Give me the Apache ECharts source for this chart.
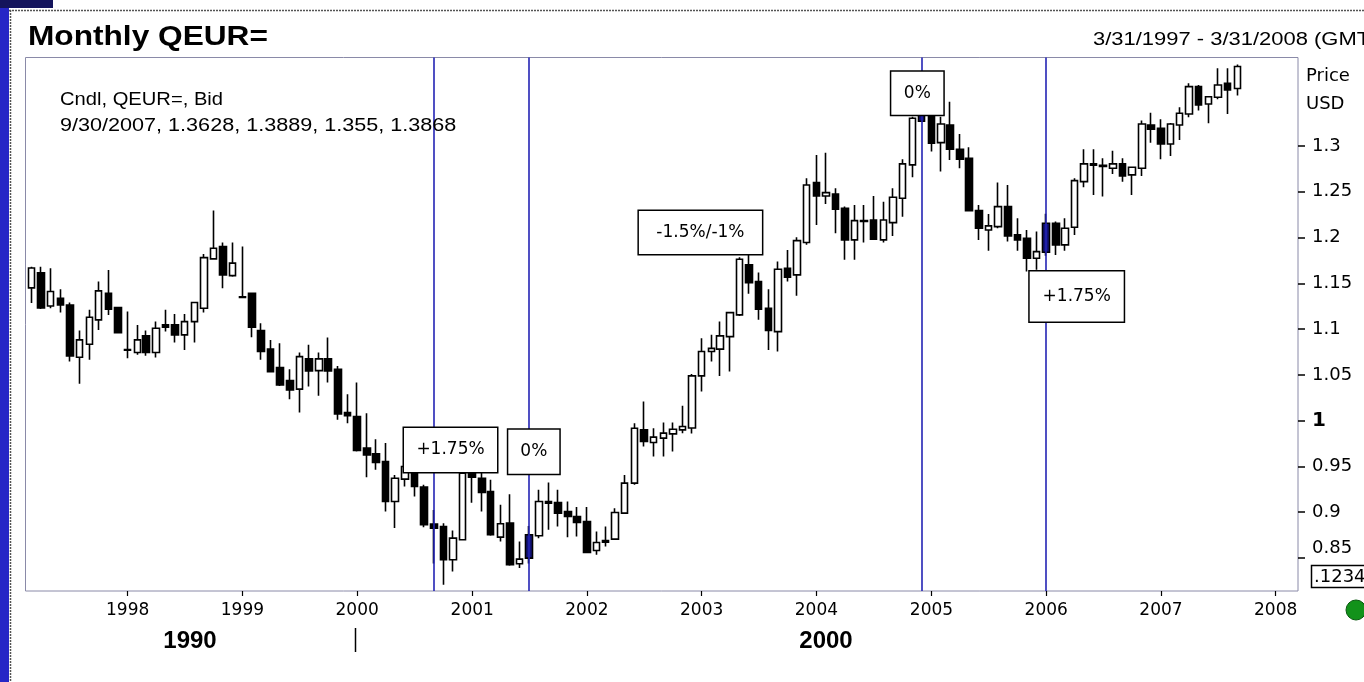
<!DOCTYPE html>
<html><head><meta charset="utf-8">
<script src="https://cdn.jsdelivr.net/npm/echarts@6/dist/echarts.min.js"></script>
<style>html,body{margin:0;padding:0;background:#fff;}#c{width:1364px;height:682px;}</style>
</head><body><div id="c"></div>
<script>
// ---- data (monthly candles, Mar 1997 .. Sep 2007) ----
const firstYear = 1997, firstMonth = 3;
const open = [1.1450,1.1614,1.1253,1.1337,1.1264,1.0693,1.0835,1.1101,1.1392,1.1235,
1.0778,1.0744,1.0926,1.0744,1.1046,1.1046,1.0937,1.1082,1.1228,1.1767,
1.1901,1.1584,1.1352,1.1392,1.0984,1.0781,1.0580,1.0438,1.0344,1.0675,
1.0547,1.0675,1.0562,1.0089,1.0045,0.9700,0.9638,0.9554,0.9117,0.9362,
0.9520,0.9274,0.8870,0.8844,0.8481,0.8699,0.9424,0.9372,0.9226,0.8728,
0.8881,0.8437,0.8499,0.8743,0.9117,0.9106,0.9008,0.8953,0.8899,0.8582,
0.8672,0.8706,0.8990,0.9318,0.9900,0.9761,0.9809,0.9856,0.9900,0.9920,
1.0489,1.0755,1.0781,1.0918,1.1155,1.1701,1.1519,1.1228,1.0973,1.1665,
1.1592,1.1945,1.2600,1.2454,1.2476,1.2320,1.1974,1.2185,1.2192,1.1974,
1.2163,1.2429,1.2793,1.3270,1.3560,1.3036,1.3229,1.2964,1.2866,1.2294,
1.2083,1.2119,1.2338,1.2029,1.1992,1.1774,1.1840,1.2156,1.1920,1.2113,
1.2610,1.2804,1.2790,1.2757,1.2804,1.2684,1.2757,1.3229,1.3193,1.3022,
1.3229,1.3349,1.3648,1.3459,1.3532,1.3685,1.3628];
const close = [1.1668,1.1232,1.1410,1.1264,1.0707,1.0882,1.1130,1.1417,1.1217,1.0962,
1.0770,1.0882,1.0744,1.1010,1.1021,1.0937,1.1082,1.1290,1.1781,1.1883,
1.1592,1.1720,1.1345,1.1021,1.0755,1.0536,1.0391,1.0336,1.0700,1.0544,
1.0675,1.0544,1.0074,1.0053,0.9674,0.9627,0.9543,0.9117,0.9372,0.9499,
0.9281,0.8863,0.8826,0.8481,0.8717,0.9427,0.9383,0.9215,0.8754,0.8874,
0.8426,0.8488,0.8754,0.9117,0.9100,0.8990,0.8953,0.8888,0.8560,0.8669,
0.8690,0.8997,0.9318,0.9918,0.9772,0.9820,0.9864,0.9907,0.9936,1.0489,
1.0755,1.0790,1.0926,1.1180,1.1763,1.1508,1.1217,1.0984,1.1654,1.1567,
1.1966,1.2574,1.2454,1.2490,1.2309,1.1974,1.2185,1.2175,1.1981,1.2192,
1.2440,1.2804,1.3303,1.3560,1.3030,1.3240,1.2964,1.2855,1.2294,1.2102,
1.2127,1.2338,1.2018,1.1974,1.1774,1.1846,1.2156,1.1920,1.2102,1.2621,
1.2804,1.2790,1.2775,1.2804,1.2673,1.2768,1.3240,1.3182,1.3022,1.3240,
1.3357,1.3648,1.3448,1.3538,1.3666,1.3612,1.3868];
const low = [1.1286,1.1220,1.1228,1.1180,1.0645,1.0402,1.0664,1.0991,1.1155,1.0955,
1.0683,1.0719,1.0708,1.0689,1.0973,1.0853,1.0773,1.0853,1.1180,1.1756,
1.1447,1.1573,1.1337,1.0912,1.0664,1.0525,1.0380,1.0235,1.0089,1.0372,
1.0271,1.0416,1.0009,0.9973,0.9663,0.9383,0.9463,0.9008,0.8827,0.9281,
0.9172,0.8837,0.8440,0.8208,0.8353,0.8691,0.9103,0.9008,0.8743,0.8680,
0.8415,0.8390,0.8440,0.8717,0.8808,0.8844,0.8728,0.8735,0.8553,0.8535,
0.8626,0.8699,0.8983,0.9299,0.9717,0.9608,0.9608,0.9663,0.9864,0.9860,
1.0318,1.0645,1.0489,1.0536,1.1144,1.1385,1.1101,1.0773,1.0755,1.1519,
1.1363,1.1920,1.2138,1.2367,1.2047,1.1756,1.1756,1.1945,1.1974,1.1945,
1.2018,1.2228,1.2658,1.3265,1.2940,1.2720,1.2847,1.2757,1.2283,1.1974,
1.1857,1.2102,1.1956,1.1857,1.1628,1.1647,1.1800,1.1810,1.1857,1.2029,
1.2549,1.2465,1.2447,1.2695,1.2610,1.2465,1.2673,1.3036,1.2855,1.2891,
1.3066,1.3313,1.3386,1.3248,1.3510,1.3349,1.3550];
const high = [1.1680,1.1680,1.1665,1.1436,1.1290,1.0984,1.1210,1.1519,1.1646,1.1245,
1.1193,1.1046,1.0984,1.1082,1.1210,1.1166,1.1166,1.1295,1.1821,1.2294,
1.1945,1.1945,1.1901,1.1395,1.1065,1.0882,1.0846,1.0562,1.0744,1.0828,
1.0744,1.0907,1.0598,1.0289,1.0416,1.0082,0.9798,0.9755,0.9408,0.9680,
0.9610,0.9299,0.9025,0.8881,0.8800,0.9450,0.9595,0.9450,0.9354,0.9081,
0.9197,0.8680,0.8850,0.9245,0.9324,0.9245,0.9117,0.9056,0.9056,0.8789,
0.8844,0.9045,0.9408,0.9973,1.0209,0.9918,0.9979,0.9979,1.0162,1.0510,
1.0901,1.0937,1.1082,1.1190,1.1785,1.1810,1.1617,1.1436,1.1737,1.1865,
1.2003,1.2648,1.2902,1.2927,1.2538,1.2338,1.2356,1.2356,1.2454,1.2392,
1.2538,1.2855,1.3320,1.3667,1.3640,1.3320,1.3484,1.3131,1.2986,1.2356,
1.2258,1.2600,1.2574,1.2211,1.2083,1.2065,1.2260,1.2174,1.2211,1.2648,
1.2964,1.2964,1.2866,1.2949,1.2866,1.2775,1.3277,1.3364,1.3292,1.3251,
1.3423,1.3685,1.3666,1.3546,1.3848,1.3848,1.3889];
// rate-change markers (vertical lines) and their notes
const rateLineDates = ['2000-09-01','2001-07-01','2004-12-01','2006-01-01'];
const markedCandleDates = ['2001-07-01','2004-12-01','2006-01-01'];
const noteTexts  = ['+1.75%','0%','-1.5%/-1%','0%','+1.75%'];
const noteDates  = ['2000-10-24','2001-07-16','2002-12-28','2004-11-17','2006-04-08'];
const noteValues = [0.9681,0.9660,1.2056,1.3575,1.1357];
// axes
const xTickYears = [1998,1999,2000,2001,2002,2003,2004,2005,2006,2007,2008];
const yTicks = [0.85,0.9,0.95,1,1.05,1.1,1.15,1.2,1.25,1.3];
const xMin = '1997-02-10', xMax = '2008-03-12';
const yMin = 0.814, yMax = 1.3966;

// ---- build ----
const pad = n => (n < 10 ? '0' : '') + n;
const ts = s => { const p = s.split('-'); return Date.UTC(+p[0], +p[1] - 1, +p[2]); };
const months = open.map((_, i) => {
  const m = firstMonth - 1 + i;
  return (firstYear + Math.floor(m / 12)) + '-' + pad(m % 12 + 1) + '-01';
});
const navy = '#12127a';
const candleData = months.map((d, i) => {
  const item = { value: [ts(d), open[i], close[i], low[i], high[i]] };
  if (markedCandleDates.indexOf(d) >= 0) {
    item.itemStyle = { color: navy, color0: navy, borderColor: '#000', borderColor0: '#000' };
  }
  return item;
});
const noteBox = [[93,44],[51,44],[123,43],[52,43],[94,50]];
const noteData = noteTexts.map((t, i) => ({
  value: [ts(noteDates[i]), noteValues[i]],
  label: { formatter: t, width: noteBox[i][0], height: noteBox[i][1], lineHeight: noteBox[i][1] }
}));
const yearTicks = xTickYears.map(y => Date.UTC(y, 0, 1));

const chart = echarts.init(document.getElementById('c'), null, { renderer: 'canvas' });
const F = 'DejaVu Sans', A = 'Liberation Sans';
function txt(x, y, text, o) {
  o = o || {};
  return { type: 'text', x: x, y: y, scaleX: o.sx || 1, z: 100,
    style: { text: text, fontFamily: o.ff || A, fontSize: o.fs || 18, fontWeight: o.fw || 'normal',
      fill: '#000', align: o.al || 'left', verticalAlign: 'middle',
      textAlign: o.al || 'left', textVerticalAlign: 'middle' } };
}
const option = {
  animation: false,
  backgroundColor: '#fff',
  grid: { left: 25.5, right: 66, top: 57.5, bottom: 91, show: true,
    borderColor: '#8a8aa8', borderWidth: 1, backgroundColor: 'transparent' },
  xAxis: {
    type: 'value', min: ts(xMin), max: ts(xMax), scale: true,
    axisLine: { show: false }, splitLine: { show: false },
    axisTick: { show: true, customValues: yearTicks, length: 5, lineStyle: { color: '#000', width: 1.2 } },
    axisLabel: { customValues: yearTicks, formatter: v => String(new Date(v).getUTCFullYear()),
      fontFamily: F, fontSize: 17, color: '#000', margin: 11 }
  },
  yAxis: {
    type: 'value', position: 'right', min: yMin, max: yMax, scale: true,
    axisLine: { show: false }, splitLine: { show: false },
    axisTick: { show: true, customValues: yTicks, length: 7, lineStyle: { color: '#000', width: 1.5 } },
    axisLabel: { customValues: yTicks, fontFamily: F, fontSize: 18, color: '#000', margin: 14,
      formatter: v => Math.abs(v - 1) < 1e-9 ? '{b|1}' : (Math.abs(v - 0.85) < 1e-9 ? '{lo|0.85}' : String(v)),
      rich: { b: { fontFamily: F, fontSize: 20, fontWeight: 'bold', color: '#000' },
              lo: { fontFamily: F, fontSize: 18, color: '#000', padding: [0, 0, 20, 0] } } }
  },
  series: [
    { type: 'candlestick', name: 'QEUR=', data: candleData, barWidth: 7, silent: true, z: 2,
      itemStyle: { color: '#fff', color0: '#000', borderColor: '#000', borderColor0: '#000', borderWidth: 1.6 },
      markLine: { silent: true, symbol: ['none', 'none'], label: { show: false },
        lineStyle: { color: '#2424b4', width: 1.6, type: 'solid', opacity: 1 },
        data: rateLineDates.map(d => ({ xAxis: ts(d) })) } },
    { type: 'scatter', name: 'notes', data: noteData, symbolSize: 0, silent: true, z: 10,
      itemStyle: { opacity: 1 },
      label: { show: true, position: 'inside', color: '#000', opacity: 1, fontFamily: F, fontSize: 17,
        backgroundColor: '#fff', borderColor: '#000', borderWidth: 1.5, padding: 0,
        align: 'center', verticalAlign: 'middle' } }
  ],
  graphic: [
    { type: 'rect', shape: { x: 0, y: 0, width: 9, height: 682 }, style: { fill: '#2626c6' }, z: 90 },
    { type: 'rect', shape: { x: 0, y: 0, width: 53, height: 8 }, style: { fill: '#14145c' }, z: 91 },
    { type: 'line', shape: { x1: 9, y1: 10.5, x2: 1364, y2: 10.5 }, style: { stroke: '#555', lineWidth: 1.5, lineDash: [2, 1] }, z: 90 },
    { type: 'line', shape: { x1: 10.5, y1: 10, x2: 10.5, y2: 682 }, style: { stroke: '#555', lineWidth: 1.5, lineDash: [2, 1] }, z: 90 },
    txt(28, 37, 'Monthly QEUR=', { fs: 28, fw: 'bold', sx: 1.13 }),
    txt(1093, 40, '3/31/1997 - 3/31/2008 (GMT)', { fs: 18, sx: 1.22 }),
    txt(60, 100, 'Cndl, QEUR=, Bid', { fs: 18, sx: 1.12 }),
    txt(60, 126, '9/30/2007, 1.3628, 1.3889, 1.355, 1.3868', { fs: 18, sx: 1.2 }),
    txt(1306, 76, 'Price', { ff: F, fs: 18 }),
    txt(1306, 104, 'USD', { ff: F, fs: 18 }),
    { type: 'rect', shape: { x: 1311.5, y: 565.5, width: 60, height: 22 }, style: { fill: '#fff', stroke: '#000', lineWidth: 1.5 }, z: 95 },
    txt(1314, 577, '.1234', { ff: F, fs: 18 }),
    { type: 'circle', shape: { cx: 1356, cy: 610, r: 10 }, style: { fill: '#12921a', stroke: '#0a5a10', lineWidth: 1 }, z: 95 },
    txt(190, 641, '1990', { fs: 24, fw: 'bold', al: 'center' }),
    txt(826, 641, '2000', { fs: 24, fw: 'bold', al: 'center' }),
    { type: 'line', shape: { x1: 355.5, y1: 628, x2: 355.5, y2: 652 }, style: { stroke: '#000', lineWidth: 1.5 }, z: 95 }
  ]
};
chart.setOption(option);
</script></body></html>
